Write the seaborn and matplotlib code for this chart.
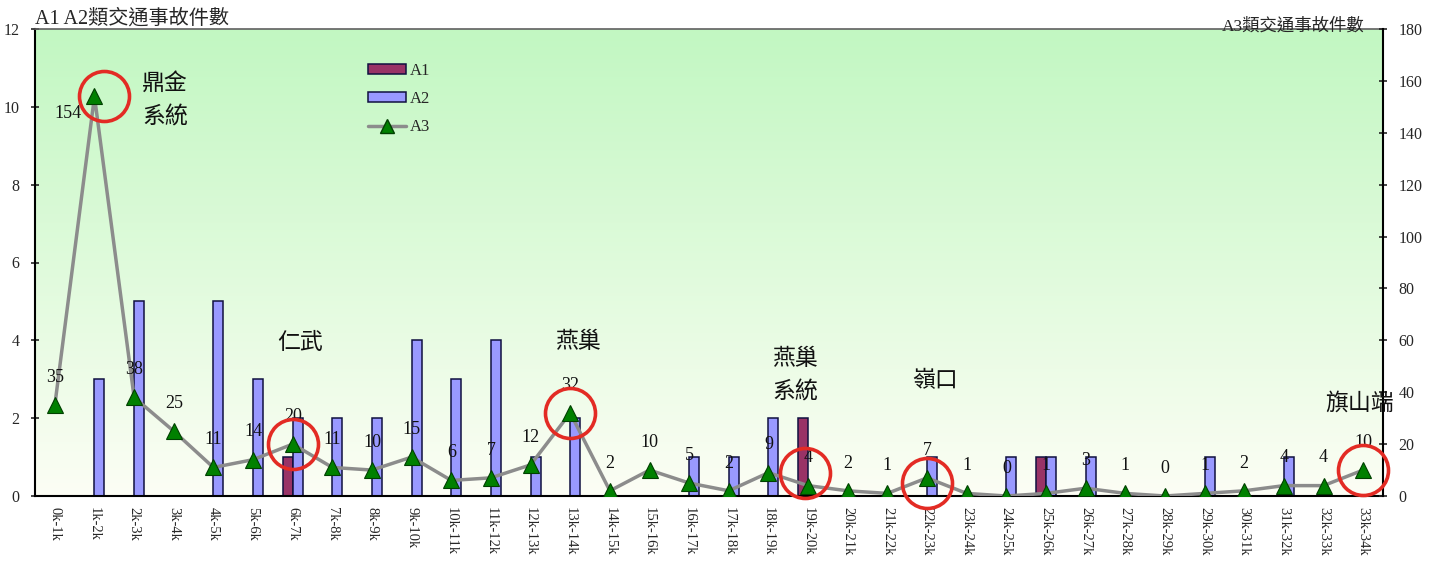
import numpy as np
import pandas as pd
import matplotlib
matplotlib.use("Agg")
import matplotlib.pyplot as plt
import matplotlib.transforms as mtransforms
from matplotlib.patches import Patch
from matplotlib.lines import Line2D
import seaborn as sns

# ---------------- data ----------------
categories = [f"{i}k-{i+1}k" for i in range(34)]
a1 = [0, 0, 0, 0, 0, 0, 1, 0, 0, 0, 0, 0, 0, 0, 0, 0, 0,
      0, 0, 2, 0, 0, 0, 0, 0, 1, 0, 0, 0, 0, 0, 0, 0, 0]
a2 = [0, 3, 5, 0, 5, 3, 2, 2, 2, 4, 3, 4, 1, 2, 0, 0, 1,
      1, 2, 0, 0, 0, 1, 0, 1, 1, 1, 0, 0, 1, 0, 1, 0, 0]
a3 = [35, 154, 38, 25, 11, 14, 20, 11, 10, 15, 6, 7, 12, 32, 2, 10, 5,
      2, 9, 4, 2, 1, 7, 1, 0, 1, 3, 1, 0, 1, 2, 4, 4, 10]
highlight_idx = [1, 6, 13, 19, 22, 33]
place_names = ["鼎金\n系統", "仁武", "燕巢", "燕巢\n系統", "嶺口", "旗山端"]
place_x = [2.78, 6.18, 13.20, 18.67, 22.20, 32.92]
place_y = [152.6, 59.0, 59.7, 46.6, 44.3, 35.8]
left_title = "A1 A2類交通事故件數"
right_title = "A3類交通事故件數"

# ---------------- style ----------------
sns.set_style("white")
plt.rcParams['font.family'] = ['Liberation Serif', 'Noto Sans CJK TC', 'DejaVu Sans']
CJK = ['Noto Sans CJK TC', 'DejaVu Sans']

fig = plt.figure(figsize=(14.34, 5.61), dpi=100)
fig.patch.set_facecolor('white')
ax = fig.add_axes([35/1434, 1-496/561, (1383-35)/1434, (496-29)/561])

# gradient background
grad = np.linspace(0, 1, 256).reshape(-1, 1)
top = np.array([0.76, 0.97, 0.76])
bot = np.array([0.99, 0.995, 0.96])
img = top[None, None, :] * (1 - grad[:, :, None]) + bot[None, None, :] * grad[:, :, None]
ax.imshow(img, extent=(0, 1, 0, 1), transform=ax.transAxes, aspect='auto', zorder=-5)

df = pd.DataFrame({
    'cat': categories * 2,
    'series': ['A1'] * len(categories) + ['A2'] * len(categories),
    'val': a1 + a2,
})
palette = {'A1': '#993366', 'A2': '#9999ff'}
sns.barplot(data=df, x='cat', y='val', hue='series', palette=palette, order=categories,
            hue_order=['A1', 'A2'], width=0.5, edgecolor='#101040', linewidth=1.1,
            saturation=1, legend=False, ax=ax, zorder=2)

ax.set_xlim(-0.5, len(categories) - 0.5)
ax.set_ylim(0, 12)
ax.set_yticks(np.arange(0, 13, 2))
ax.set_xlabel('')
ax.set_ylabel('')
ax.tick_params(axis='x', labelrotation=270, labelsize=10.5, length=0, pad=8)
ax.tick_params(axis='y', labelsize=11.5, direction='inout', length=6, width=1.2, left=True, pad=8)
for lab in ax.get_xticklabels():
    lab.set_rotation(270)
    lab.set_va('top')
    lab.set_ha('center')
for s in ['left', 'bottom']:
    ax.spines[s].set_color('black')
    ax.spines[s].set_linewidth(1.5)
ax.spines['right'].set_visible(False)
ax.spines['top'].set_color('#606060')
ax.spines['top'].set_linewidth(1.2)

# secondary axis with A3 line
ax2 = ax.twinx()
xpos = np.arange(len(categories))
sns.lineplot(x=xpos, y=a3, ax=ax2, color='#8c8c8c', linewidth=2.5, marker='^',
             markersize=12, markerfacecolor='#008000', markeredgecolor='#004000',
             markeredgewidth=0.8, zorder=4)
ax2.set_ylim(0, 180)
ax2.set_yticks(np.arange(0, 181, 20))
ax2.set_xlim(-0.5, len(categories) - 0.5)
ax2.tick_params(axis='y', labelsize=11.5, direction='inout', length=6, width=1.2, right=True, pad=8)
for s in ['left', 'top', 'bottom']:
    ax2.spines[s].set_visible(False)
ax2.spines['right'].set_color('black')
ax2.spines['right'].set_linewidth(1.5)

# value labels
for i, v in enumerate(a3):
    if i == 1:
        off = (-19, -12)
    else:
        off = (0, 20)
    ax2.annotate(str(v), (i, v), xytext=off, textcoords='offset points',
                 ha='center', va='center', fontsize=13, color='#111111', zorder=6)

# red circles
circle_off = {1: (7, 0), 19: (-2, 9), 22: (0, -3.5)}
for i in highlight_idx:
    dx, dy = circle_off.get(i, (0, 0))
    tr = mtransforms.offset_copy(ax2.transData, fig=fig, x=dx, y=dy, units='points')
    ax2.plot([i], [a3[i]], marker='o', markersize=36, markerfacecolor='none',
             markeredgecolor='#e32b24', markeredgewidth=2.6, transform=tr, zorder=7,
             clip_on=False)

# place names
for name, x, y in zip(place_names, place_x, place_y):
    ax2.text(x, y, name, ha='center', va='center', fontsize=16.5, family=CJK,
             linespacing=1.55, color='#111111', zorder=6)

# legend
handles = [Patch(facecolor=palette['A1'], edgecolor='#101040', linewidth=1.1),
           Patch(facecolor=palette['A2'], edgecolor='#101040', linewidth=1.1),
           Line2D([0], [0], color='#8c8c8c', linewidth=2.5, marker='^', markersize=10,
                  markerfacecolor='#008000', markeredgecolor='#004000')]
leg = ax2.legend(handles, ['A1', 'A2', 'A3'], loc='upper left',
                 bbox_to_anchor=((363-35)/1348, (496-58)/467), frameon=True,
                 fancybox=False, edgecolor='black', framealpha=0, fontsize=12,
                 handlelength=2.3, handleheight=0.55, handletextpad=0.2,
                 borderpad=0.3, labelspacing=0.72, borderaxespad=0)
leg.get_frame().set_linewidth(1.5)

# axis titles
fig.text(35/1434, 1-19/561, left_title, ha='left', va='center', fontsize=14.5,
         family=['Liberation Serif', 'Noto Sans CJK TC'])
fig.text(1365/1434, 1-26/561, right_title, ha='right', va='center', fontsize=12.5,
         family=['Liberation Serif', 'Noto Sans CJK TC'])

fig.savefig('out.png', dpi=100, facecolor='white')
